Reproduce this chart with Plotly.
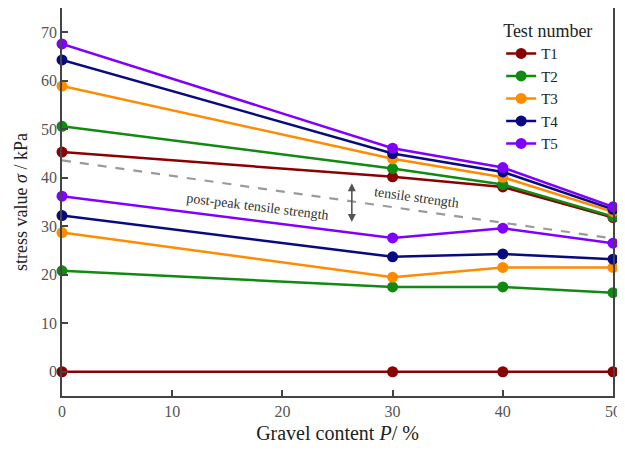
import plotly.graph_objects as go

gravel = [0, 30, 40, 50]
names = ["T1", "T2", "T3", "T4", "T5"]
colors = ["#8b0000", "#108a10", "#ff8c00", "#0a0a80", "#8000ff"]

tensile = {
    "T1": [45.3, 40.2, 38.1, 31.8],
    "T2": [50.6, 41.9, 38.6, 32.0],
    "T3": [58.9, 43.9, 40.1, 33.0],
    "T4": [64.3, 45.0, 41.2, 33.5],
    "T5": [67.6, 46.1, 42.1, 34.0],
}
post_peak = {
    "T1": [0.0, 0.0, 0.0, 0.0],
    "T2": [20.8, 17.5, 17.5, 16.3],
    "T3": [28.7, 19.5, 21.5, 21.5],
    "T4": [32.2, 23.7, 24.3, 23.2],
    "T5": [36.2, 27.6, 29.6, 26.5],
}
divider_x = [0, 50]
divider_y = [43.6, 27.5]

x_ticks = [0, 10, 20, 30, 40, 50]
y_ticks = [0, 10, 20, 30, 40, 50, 60, 70]

FONT = "Liberation Serif"

fig = go.Figure()
fig.add_trace(go.Scatter(x=divider_x, y=divider_y, mode="lines",
                         line=dict(color="#9a9a9a", width=2.2, dash="dash"),
                         showlegend=False, hoverinfo="skip"))
for n, c in zip(names, colors):
    fig.add_trace(go.Scatter(x=gravel, y=post_peak[n], mode="lines+markers",
                             line=dict(color=c, width=2.5),
                             marker=dict(color=c, size=11),
                             showlegend=False, legendgroup=n, cliponaxis=False))
for n, c in zip(names, colors):
    fig.add_trace(go.Scatter(x=gravel, y=tensile[n], mode="lines+markers", name=n,
                             line=dict(color=c, width=2.5),
                             marker=dict(color=c, size=11),
                             legendgroup=n, cliponaxis=False))

fig.add_annotation(x=26.3, y=30.9, ax=26.3, ay=39.2, xref="x", yref="y",
                   axref="x", ayref="y", text="", showarrow=True,
                   arrowhead=2, startarrowhead=2, arrowside="end+start",
                   arrowsize=1, arrowwidth=1.6, arrowcolor="#555555")
fig.add_annotation(x=32.2, y=36.0, xref="x", yref="y", text="tensile strength",
                   showarrow=False, textangle=8,
                   font=dict(family=FONT, size=14, color="#333333"))
fig.add_annotation(x=17.7, y=34.0, xref="x", yref="y", text="post-peak tensile strength",
                   showarrow=False, textangle=7,
                   font=dict(family=FONT, size=14, color="#333333"))

axis_common = dict(showline=True, linecolor="#444444", linewidth=1.5, mirror=True,
                   ticks="inside", ticklen=6, tickwidth=1.5, tickcolor="#444444",
                   showgrid=False, zeroline=False, automargin=False,
                   tickfont=dict(family=FONT, size=16, color="#555555"))

# page body has an 8px default margin, so the figure is sized/offset to compensate
fig.update_layout(
    width=617, height=444,
    margin=dict(l=54, r=12, t=0, b=56),
    plot_bgcolor="white", paper_bgcolor="white",
    font=dict(family=FONT, color="#222222"),
    xaxis=dict(range=[0, 50], tickvals=x_ticks,
               title=dict(text="Gravel content <i>P</i>/ %", standoff=7,
                          font=dict(family=FONT, size=20, color="#222222")),
               **axis_common),
    yaxis=dict(range=[-5, 75], tickvals=y_ticks,
               title=dict(text="stress value <i>σ</i> / kPa", standoff=9,
                          font=dict(family=FONT, size=18, color="#222222")),
               **axis_common),
    legend=dict(x=0.797, y=0.985, xanchor="left", yanchor="top",
                bgcolor="rgba(0,0,0,0)",
                title=dict(text="Test number", side="top",
                           font=dict(family=FONT, size=18, color="#222222")),
                font=dict(family=FONT, size=15, color="#222222"),
                itemwidth=30, tracegroupgap=0),
)

fig.write_html("out.html")
